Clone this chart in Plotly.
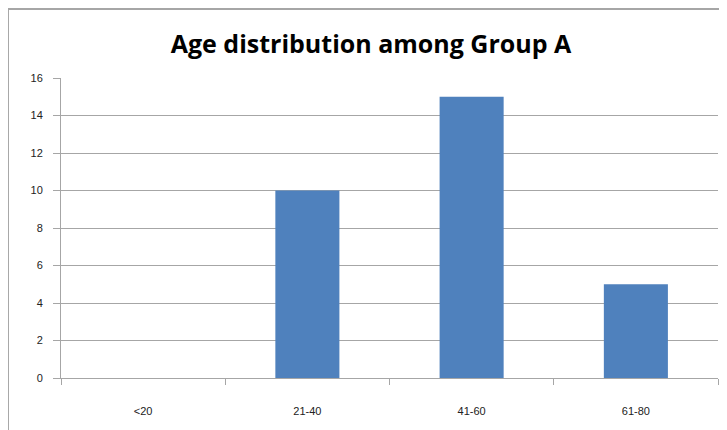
import plotly.graph_objects as go

categories = ["<20", "21-40", "41-60", "61-80"]
counts = [0, 10, 15, 5]
y_ticks = [0, 2, 4, 6, 8, 10, 12, 14, 16]

fig = go.Figure(go.Bar(
    x=categories, y=counts,
    marker=dict(color="#4F81BD", line=dict(width=0)),
    width=0.39,
))

grid = "#A6A6A6"
fig.update_layout(
    width=727, height=430,
    margin=dict(l=53, r=17, t=70, b=60, autoexpand=False),
    paper_bgcolor="white", plot_bgcolor="white",
    title=dict(text="<b>Age distribution among Group A</b>", x=(371 - 8) / 727, xanchor="center",
               y=1 - 36 / 430, yanchor="middle",
               font=dict(family="Open Sans", size=25, color="black")),
    showlegend=False,
    xaxis=dict(
        type="category", tickson="boundaries", ticks="outside", ticklen=6,
        tickcolor=grid, showline=True, linecolor=grid, linewidth=1,
        showgrid=False, automargin=False, ticklabelstandoff=23,
        tickfont=dict(family="Liberation Sans", size=11, color="#222"),
        range=[-0.5, 3.5],
    ),
    yaxis=dict(
        range=[0, 16], tickvals=y_ticks, ticks="outside", ticklen=7,
        tickcolor=grid, showline=True, linecolor=grid, linewidth=1,
        showgrid=True, gridcolor=grid, gridwidth=1, zeroline=False,
        automargin=False, ticklabelstandoff=8,
        tickfont=dict(family="Liberation Sans", size=11, color="#222"),
    ),
    shapes=[
        dict(type="line", xref="paper", yref="paper", x0=-0.0807, x1=-0.0807,
             y0=1.23, y1=-0.3, line=dict(color="#A6A6A6", width=2)),
        dict(type="line", xref="paper", yref="paper", x0=-0.0807, x1=1.1,
             y0=1.23, y1=1.23, line=dict(color="#A6A6A6", width=2)),
    ],
)

fig.write_html("out.html")
